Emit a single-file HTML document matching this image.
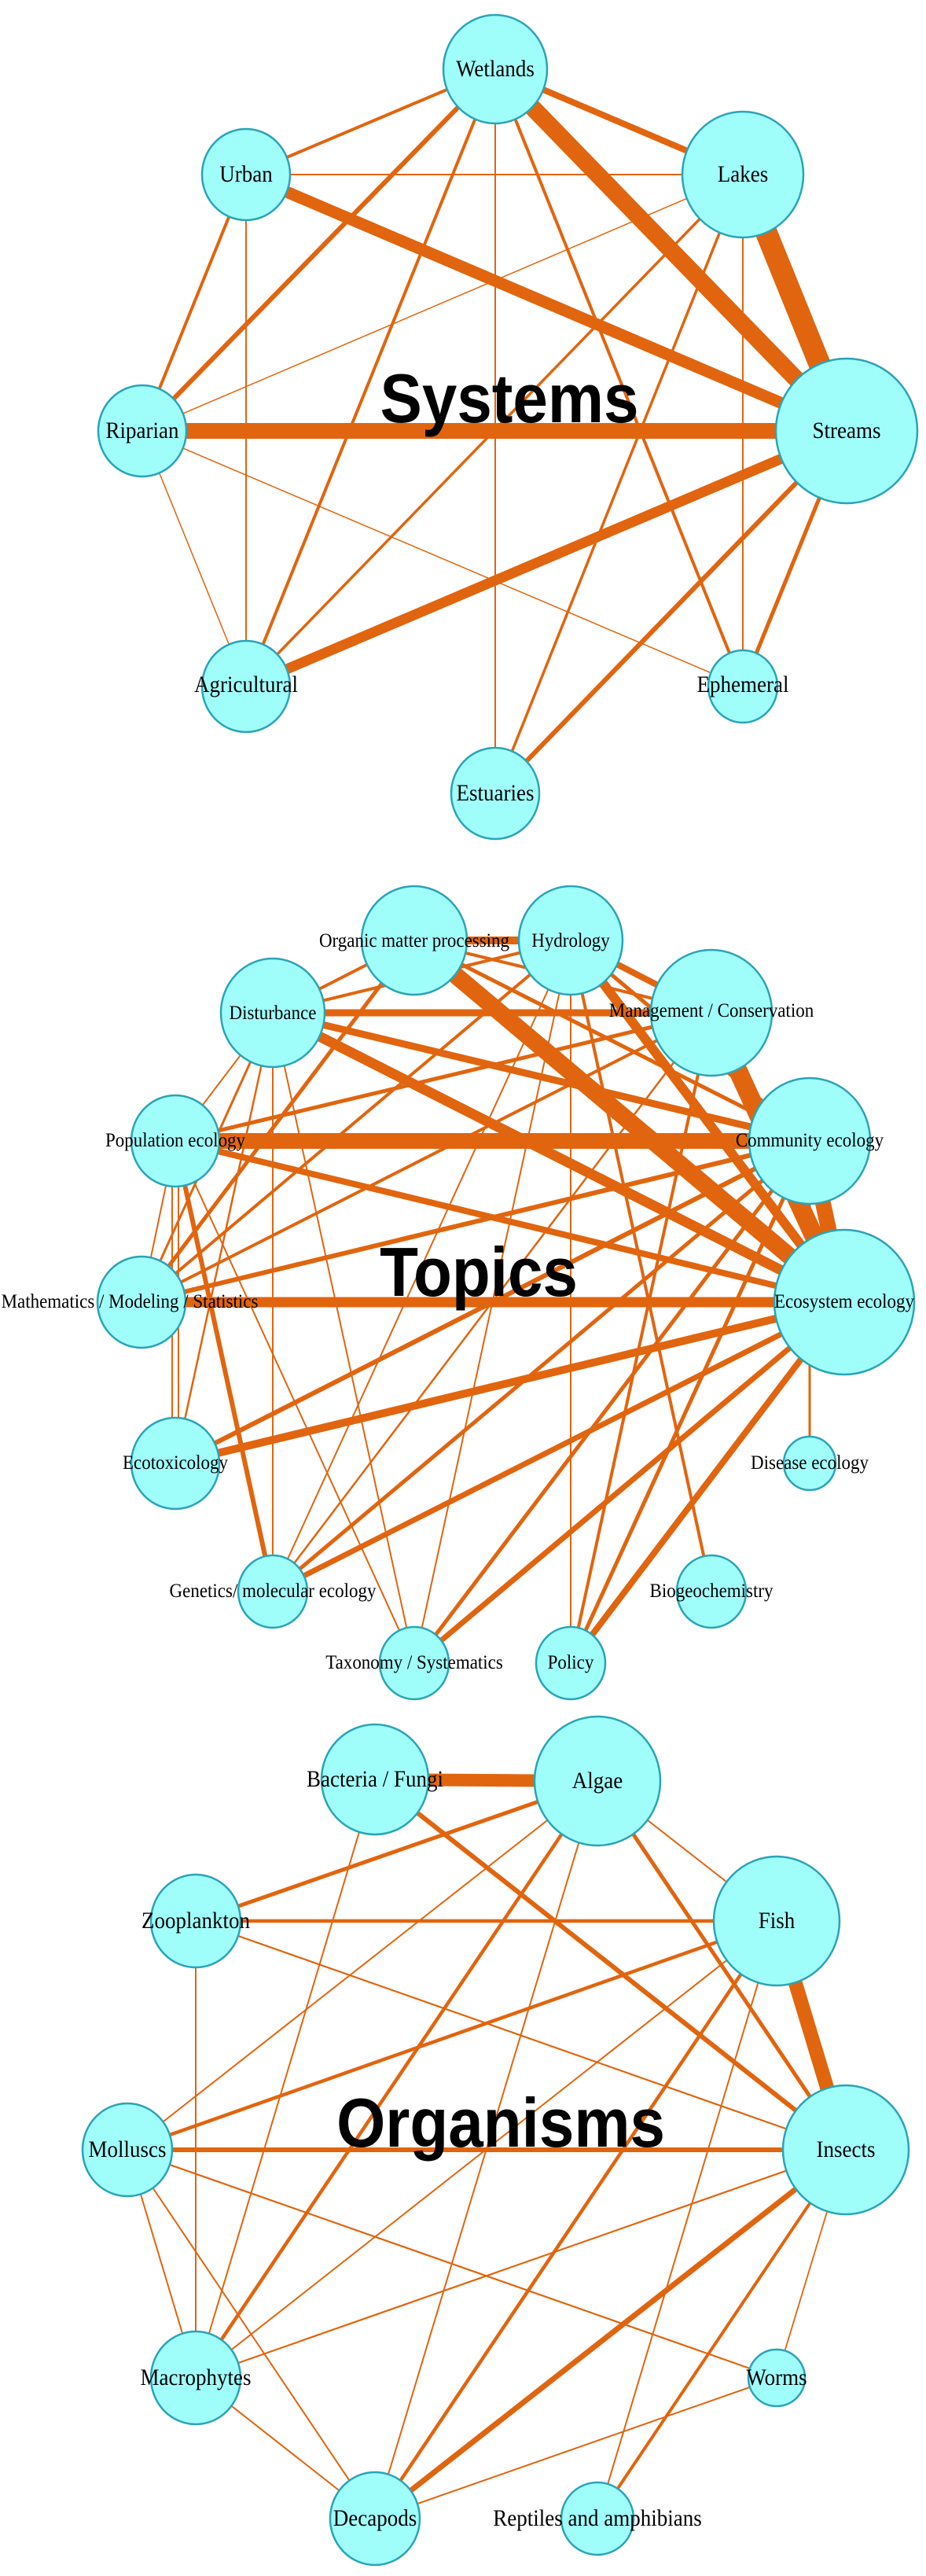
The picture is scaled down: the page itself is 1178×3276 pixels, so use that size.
<!DOCTYPE html>
<html><head><meta charset="utf-8"><style>
html,body{margin:0;padding:0;background:#fff}
svg{display:block}
.e line{stroke:#e1650f;stroke-linecap:butt}
.n ellipse{fill:#a0fefa;stroke:#2ba4b6;stroke-width:2.5}
.l text{font-family:"Liberation Serif",serif;fill:#000;text-anchor:middle}
.t{font-family:"Liberation Sans",sans-serif;font-weight:bold;font-size:80px;text-anchor:middle;fill:#000}
</style></head><body>
<svg width="1178" height="3276" viewBox="0 0 1178 3276" xmlns="http://www.w3.org/2000/svg">
<!-- SYSTEMS -->
<g class="e">
<line x1="630" y1="88" x2="945" y2="222" stroke-width="8"/>
<line x1="630" y1="88" x2="1077" y2="548" stroke-width="22"/>
<line x1="945" y1="222" x2="1077" y2="548" stroke-width="28"/>
<line x1="313" y1="222" x2="1077" y2="548" stroke-width="15"/>
<line x1="181" y1="548" x2="1077" y2="548" stroke-width="20"/>
<line x1="313" y1="873" x2="1077" y2="548" stroke-width="13"/>
<line x1="630" y1="88" x2="313" y2="222" stroke-width="4"/>
<line x1="630" y1="88" x2="181" y2="548" stroke-width="6"/>
<line x1="630" y1="88" x2="313" y2="873" stroke-width="4"/>
<line x1="630" y1="88" x2="630" y2="1009" stroke-width="2"/>
<line x1="630" y1="88" x2="945" y2="873" stroke-width="4"/>
<line x1="313" y1="222" x2="945" y2="222" stroke-width="2"/>
<line x1="313" y1="222" x2="181" y2="548" stroke-width="4"/>
<line x1="313" y1="222" x2="313" y2="873" stroke-width="2"/>
<line x1="945" y1="222" x2="181" y2="548" stroke-width="1.5"/>
<line x1="945" y1="222" x2="313" y2="873" stroke-width="3.5"/>
<line x1="945" y1="222" x2="630" y2="1009" stroke-width="3.5"/>
<line x1="945" y1="222" x2="945" y2="873" stroke-width="2"/>
<line x1="181" y1="548" x2="313" y2="873" stroke-width="1.5"/>
<line x1="181" y1="548" x2="945" y2="873" stroke-width="1.5"/>
<line x1="1077" y1="548" x2="630" y2="1009" stroke-width="6"/>
<line x1="1077" y1="548" x2="945" y2="873" stroke-width="5"/>
</g>
<text class="t" transform="translate(648,537) scale(1,1.1)">Systems</text>
<g class="n">
<ellipse cx="630" cy="88" rx="66" ry="69"/>
<ellipse cx="313" cy="222" rx="56" ry="58"/>
<ellipse cx="945" cy="222" rx="77" ry="80"/>
<ellipse cx="181" cy="548" rx="56" ry="58"/>
<ellipse cx="1077" cy="548" rx="90" ry="92"/>
<ellipse cx="313" cy="873" rx="56" ry="58"/>
<ellipse cx="945" cy="873" rx="44" ry="46"/>
<ellipse cx="630" cy="1009" rx="56" ry="58"/>
</g>
<g class="l" font-size="27">
<text transform="translate(630,97) scale(1,1.1)">Wetlands</text>
<text transform="translate(313,231) scale(1,1.1)">Urban</text>
<text transform="translate(945,231) scale(1,1.1)">Lakes</text>
<text transform="translate(181,557) scale(1,1.1)">Riparian</text>
<text transform="translate(1077,557) scale(1,1.1)">Streams</text>
<text transform="translate(313,880) scale(1,1.1)">Agricultural</text>
<text transform="translate(945,880) scale(1,1.1)">Ephemeral</text>
<text transform="translate(630,1018) scale(1,1.1)">Estuaries</text>
</g>

<!-- TOPICS -->
<g class="e">
<line x1="527" y1="1196" x2="1074" y2="1656" stroke-width="22"/>
<line x1="905" y1="1288" x2="1074" y2="1656" stroke-width="24"/>
<line x1="1030" y1="1451" x2="1074" y2="1656" stroke-width="20"/>
<line x1="726" y1="1196" x2="1074" y2="1656" stroke-width="12"/>
<line x1="726" y1="1196" x2="905" y2="1288" stroke-width="8"/>
<line x1="347" y1="1288" x2="1074" y2="1656" stroke-width="13"/>
<line x1="347" y1="1288" x2="1030" y2="1451" stroke-width="9"/>
<line x1="347" y1="1288" x2="905" y2="1288" stroke-width="9"/>
<line x1="223" y1="1451" x2="1030" y2="1451" stroke-width="20"/>
<line x1="223" y1="1451" x2="1074" y2="1656" stroke-width="8"/>
<line x1="180" y1="1656" x2="1074" y2="1656" stroke-width="13"/>
<line x1="527" y1="1196" x2="726" y2="1196" stroke-width="10"/>
<line x1="223" y1="1861" x2="1074" y2="1656" stroke-width="10"/>
<line x1="347" y1="2024" x2="1074" y2="1656" stroke-width="7"/>
<line x1="347" y1="2024" x2="1030" y2="1451" stroke-width="5"/>
<line x1="347" y1="2024" x2="347" y2="1288" stroke-width="2"/>
<line x1="347" y1="2024" x2="726" y2="1196" stroke-width="2"/>
<line x1="347" y1="2024" x2="223" y2="1451" stroke-width="6"/>
<line x1="347" y1="2024" x2="905" y2="1288" stroke-width="2.5"/>
<line x1="527" y1="2115" x2="1074" y2="1656" stroke-width="7"/>
<line x1="527" y1="2115" x2="1030" y2="1451" stroke-width="5"/>
<line x1="527" y1="2115" x2="726" y2="1196" stroke-width="2"/>
<line x1="527" y1="2115" x2="347" y2="1288" stroke-width="2"/>
<line x1="527" y1="2115" x2="223" y2="1451" stroke-width="2"/>
<line x1="726" y1="2115" x2="726" y2="1196" stroke-width="2"/>
<line x1="726" y1="2115" x2="1074" y2="1656" stroke-width="8"/>
<line x1="726" y1="2115" x2="1030" y2="1451" stroke-width="5"/>
<line x1="726" y1="2115" x2="905" y2="1288" stroke-width="4"/>
<line x1="905" y1="2024" x2="726" y2="1196" stroke-width="4"/>
<line x1="1030" y1="1861" x2="1030" y2="1451" stroke-width="3"/>
<line x1="219" y1="1861" x2="219" y2="1451" stroke-width="2"/>
<line x1="227" y1="1861" x2="227" y2="1451" stroke-width="2"/>
<line x1="223" y1="1861" x2="347" y2="1288" stroke-width="2.5"/>
<line x1="223" y1="1861" x2="1030" y2="1451" stroke-width="6"/>
<line x1="180" y1="1656" x2="347" y2="1288" stroke-width="3"/>
<line x1="180" y1="1656" x2="527" y2="1196" stroke-width="5"/>
<line x1="180" y1="1656" x2="726" y2="1196" stroke-width="4"/>
<line x1="180" y1="1656" x2="905" y2="1288" stroke-width="4"/>
<line x1="180" y1="1656" x2="1030" y2="1451" stroke-width="6"/>
<line x1="180" y1="1656" x2="223" y2="1451" stroke-width="2"/>
<line x1="223" y1="1451" x2="347" y2="1288" stroke-width="2"/>
<line x1="223" y1="1451" x2="905" y2="1288" stroke-width="5"/>
<line x1="347" y1="1288" x2="527" y2="1196" stroke-width="4"/>
<line x1="347" y1="1288" x2="726" y2="1196" stroke-width="4"/>
<line x1="527" y1="1196" x2="905" y2="1288" stroke-width="4"/>
<line x1="527" y1="1196" x2="1030" y2="1451" stroke-width="5"/>
<line x1="726" y1="1196" x2="1030" y2="1451" stroke-width="5"/>
</g>
<text class="t" transform="translate(609,1648) scale(1,1.1)">Topics</text>
<g class="n">
<ellipse cx="527" cy="1196" rx="67" ry="69"/>
<ellipse cx="726" cy="1196" rx="66" ry="69"/>
<ellipse cx="347" cy="1288" rx="66" ry="69"/>
<ellipse cx="905" cy="1288" rx="77" ry="80"/>
<ellipse cx="223" cy="1451" rx="56" ry="58"/>
<ellipse cx="1030" cy="1451" rx="77" ry="80"/>
<ellipse cx="180" cy="1656" rx="56" ry="58"/>
<ellipse cx="1074" cy="1656" rx="89" ry="92"/>
<ellipse cx="223" cy="1861" rx="56" ry="58"/>
<ellipse cx="1030" cy="1861" rx="33" ry="34"/>
<ellipse cx="347" cy="2024" rx="44" ry="46"/>
<ellipse cx="905" cy="2024" rx="44" ry="46"/>
<ellipse cx="527" cy="2115" rx="44" ry="46"/>
<ellipse cx="726" cy="2115" rx="44" ry="46"/>
</g>
<g class="l" font-size="23">
<text transform="translate(527,1204) scale(1,1.1)">Organic matter processing</text>
<text transform="translate(726,1204) scale(1,1.1)">Hydrology</text>
<text transform="translate(347,1296) scale(1,1.1)">Disturbance</text>
<text transform="translate(905,1293) scale(1,1.1)">Management / Conservation</text>
<text transform="translate(223,1458) scale(1,1.1)">Population ecology</text>
<text transform="translate(1030,1458) scale(1,1.1)">Community ecology</text>
<text transform="translate(165,1663) scale(1,1.1)">Mathematics / Modeling / Statistics</text>
<text transform="translate(1074,1663) scale(1,1.1)">Ecosystem ecology</text>
<text transform="translate(223,1868) scale(1,1.1)">Ecotoxicology</text>
<text transform="translate(1030,1868) scale(1,1.1)">Disease ecology</text>
<text transform="translate(347,2031) scale(1,1.1)">Genetics/ molecular ecology</text>
<text transform="translate(905,2031) scale(1,1.1)">Biogeochemistry</text>
<text transform="translate(527,2122) scale(1,1.1)">Taxonomy / Systematics</text>
<text transform="translate(726,2122) scale(1,1.1)">Policy</text>
</g>

<!-- ORGANISMS -->
<g class="e">
<line x1="477" y1="2263" x2="760" y2="2265" stroke-width="16"/>
<line x1="988" y1="2443" x2="1076" y2="2734" stroke-width="18"/>
<line x1="477" y1="2263" x2="1076" y2="2734" stroke-width="6"/>
<line x1="760" y1="2265" x2="249" y2="2443" stroke-width="5"/>
<line x1="760" y1="2265" x2="1076" y2="2734" stroke-width="5"/>
<line x1="760" y1="2265" x2="988" y2="2443" stroke-width="2"/>
<line x1="760" y1="2265" x2="162" y2="2734" stroke-width="2"/>
<line x1="760" y1="2265" x2="249" y2="3024" stroke-width="4.5"/>
<line x1="760" y1="2265" x2="477" y2="3203" stroke-width="2"/>
<line x1="249" y1="2443" x2="988" y2="2443" stroke-width="4.5"/>
<line x1="249" y1="2443" x2="1076" y2="2734" stroke-width="2.2"/>
<line x1="249" y1="2443" x2="249" y2="3024" stroke-width="2"/>
<line x1="477" y1="2263" x2="249" y2="3024" stroke-width="2"/>
<line x1="988" y1="2443" x2="162" y2="2734" stroke-width="4.5"/>
<line x1="988" y1="2443" x2="249" y2="3024" stroke-width="2"/>
<line x1="988" y1="2443" x2="477" y2="3203" stroke-width="4.5"/>
<line x1="988" y1="2443" x2="760" y2="3203" stroke-width="2"/>
<line x1="162" y1="2734" x2="1076" y2="2734" stroke-width="6"/>
<line x1="162" y1="2734" x2="988" y2="3024" stroke-width="2.2"/>
<line x1="162" y1="2734" x2="249" y2="3024" stroke-width="2"/>
<line x1="162" y1="2734" x2="477" y2="3203" stroke-width="2"/>
<line x1="1076" y1="2734" x2="249" y2="3024" stroke-width="2.2"/>
<line x1="1076" y1="2734" x2="477" y2="3203" stroke-width="7"/>
<line x1="1076" y1="2734" x2="760" y2="3203" stroke-width="4"/>
<line x1="1076" y1="2734" x2="988" y2="3024" stroke-width="1.8"/>
<line x1="249" y1="3024" x2="477" y2="3203" stroke-width="2"/>
<line x1="477" y1="3203" x2="988" y2="3024" stroke-width="2"/>
</g>
<text class="t" transform="translate(637,2730) scale(1,1.1)">Organisms</text>
<g class="n">
<ellipse cx="477" cy="2263" rx="68" ry="70"/>
<ellipse cx="760" cy="2265" rx="80" ry="82"/>
<ellipse cx="249" cy="2443" rx="57" ry="59"/>
<ellipse cx="988" cy="2443" rx="80" ry="82"/>
<ellipse cx="162" cy="2734" rx="57" ry="59"/>
<ellipse cx="1076" cy="2734" rx="80" ry="82"/>
<ellipse cx="249" cy="3024" rx="57" ry="59"/>
<ellipse cx="988" cy="3024" rx="36" ry="36"/>
<ellipse cx="477" cy="3203" rx="57" ry="59"/>
<ellipse cx="760" cy="3203" rx="46" ry="46"/>
</g>
<g class="l" font-size="27">
<text transform="translate(477,2272) scale(1,1.1)">Bacteria / Fungi</text>
<text transform="translate(760,2274) scale(1,1.1)">Algae</text>
<text transform="translate(249,2452) scale(1,1.1)">Zooplankton</text>
<text transform="translate(988,2452) scale(1,1.1)">Fish</text>
<text transform="translate(162,2743) scale(1,1.1)">Molluscs</text>
<text transform="translate(1076,2743) scale(1,1.1)">Insects</text>
<text transform="translate(249,3033) scale(1,1.1)">Macrophytes</text>
<text transform="translate(988,3033) scale(1,1.1)">Worms</text>
<text transform="translate(477,3212) scale(1,1.1)">Decapods</text>
<text transform="translate(760,3212) scale(1,1.1)">Reptiles and amphibians</text>
</g>
</svg>
</body></html>
